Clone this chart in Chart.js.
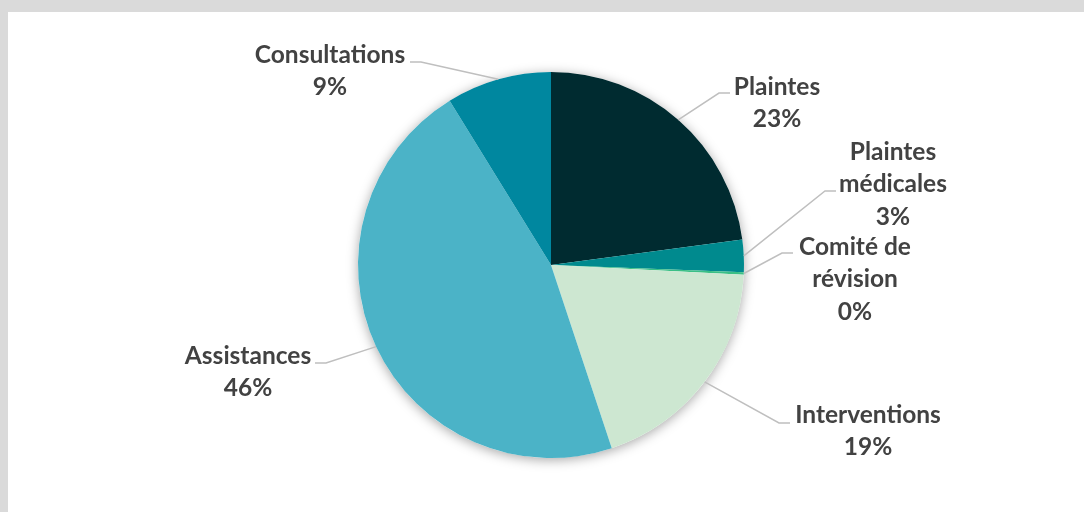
<!DOCTYPE html>
<html>
<head>
<meta charset="utf-8">
<script src="https://cdn.jsdelivr.net/npm/chart.js@4.4.0/dist/chart.umd.min.js"></script>
<style>
  body { margin: 0; background: #dadada; width: 1084px; height: 512px; overflow: hidden; }
  #cadre { position: absolute; left: 8px; top: 12px; width: 1076px; height: 500px; background: #ffffff; }
</style>
</head>
<body>
<div id="cadre"><canvas id="graphique" width="1076" height="500"></canvas></div>
<script>
// Répartition des dossiers (%)
var categories = [
    ['Plaintes'],
    ['Plaintes', 'médicales'],
    ['Comité de', 'révision'],
    ['Interventions'],
    ['Assistances'],
    ['Consultations']
];
var valeurs = [22.9, 2.7, 0.2, 19.1, 46.3, 8.8];
var couleurs = ['#002b30', '#008a8e', '#3bbf86', '#cde7d1', '#4bb3c7', '#00879f'];

// Position des étiquettes par rapport au centre du camembert :
// tx/ty = centre de la première ligne, lx/ly = point d'attache du trait
var placements = [
    { tx: 226, ty: -178, lx: 179, ly: -172 },
    { tx: 342, ty: -113, lx: 285, ly: -74 },
    { tx: 304, ty: -18, lx: 242, ly: -12 },
    { tx: 317, ty: 150, lx: 239, ly: 158 },
    { tx: -303, ty: 91, lx: -236, ly: 98 },
    { tx: -221, ty: -210, lx: -141, ly: -203 }
];

var policeEtiquette = 'bold 24.5px Lato';
var interligne = 32.5;

// Ombre douce sous le camembert
var ombrePlugin = {
    id: 'ombre',
    beforeDatasetsDraw: function (chart) {
        var arc = chart.getDatasetMeta(0).data[0];
        if (!arc) return;
        var ctx = chart.ctx;
        ctx.save();
        ctx.shadowColor = 'rgba(0, 0, 0, 0.35)';
        ctx.shadowBlur = 12;
        ctx.shadowOffsetY = 2;
        ctx.fillStyle = '#ffffff';
        ctx.beginPath();
        ctx.arc(arc.x, arc.y, arc.outerRadius, 0, Math.PI * 2);
        ctx.fill();
        ctx.restore();
    }
};

// Étiquettes avec traits de rappel
var etiquettesPlugin = {
    id: 'etiquettes',
    afterDatasetsDraw: function (chart) {
        var ctx = chart.ctx;
        var meta = chart.getDatasetMeta(0);
        var total = valeurs.reduce(function (a, b) { return a + b; }, 0);
        meta.data.forEach(function (arc, i) {
            var p = arc.getProps(['x', 'y', 'startAngle', 'endAngle', 'outerRadius'], true);
            var milieu = (p.startAngle + p.endAngle) / 2;
            var ax = p.x + Math.cos(milieu) * p.outerRadius;
            var ay = p.y + Math.sin(milieu) * p.outerRadius;
            var pl = placements[i];
            var lx = p.x + pl.lx;
            var ly = p.y + pl.ly;
            var coude = pl.lx > 0 ? lx - 11 : lx + 11;

            ctx.save();
            ctx.strokeStyle = '#bfbfbf';
            ctx.lineWidth = 1.5;
            ctx.beginPath();
            ctx.moveTo(ax, ay);
            ctx.lineTo(coude, ly);
            ctx.lineTo(lx, ly);
            ctx.stroke();

            var lignes = categories[i].concat([Math.round(valeurs[i] / total * 100) + '%']);
            ctx.font = policeEtiquette;
            ctx.fillStyle = '#424242';
            ctx.textAlign = 'center';
            ctx.textBaseline = 'middle';
            lignes.forEach(function (txt, k) {
                ctx.fillText(txt, p.x + pl.tx, p.y + pl.ty + k * interligne);
            });
            ctx.restore();
        });
    }
};

var ctx = document.getElementById('graphique').getContext('2d');
new Chart(ctx, {
    type: 'pie',
    data: {
        labels: categories,
        datasets: [{
            data: valeurs,
            backgroundColor: couleurs,
            borderWidth: 0
        }]
    },
    options: {
        responsive: false,
        animation: false,
        layout: { padding: { top: 60, bottom: 54, left: 143, right: 133 } },
        plugins: {
            legend: { display: false },
            tooltip: { enabled: false }
        }
    },
    plugins: [ombrePlugin, etiquettesPlugin]
});
</script>
</body>
</html>
